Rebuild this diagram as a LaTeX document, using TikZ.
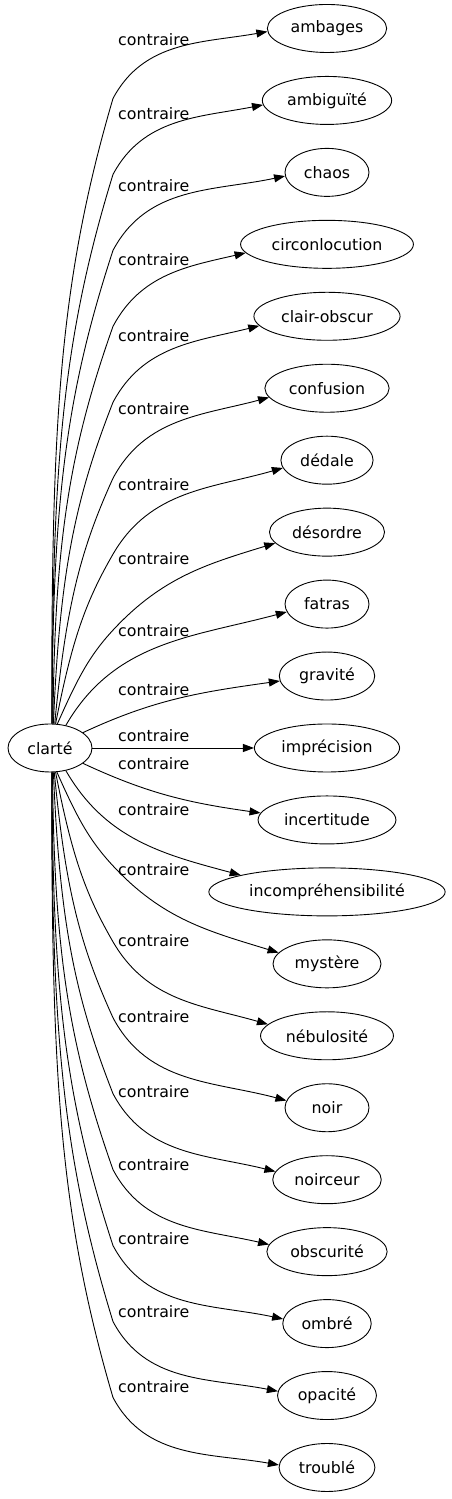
\documentclass[tikz,border=0pt]{standalone}
\usepackage{fontspec}
\setmainfont{DejaVu Sans}
\usetikzlibrary{shapes.geometric,arrows.meta}
\begin{document}
\begin{tikzpicture}[x=1pt,y=1pt,
  every node/.style={font=\fontsize{15.8}{18}\selectfont},
  tgt/.style={ellipse, draw, line width=0.9pt, inner xsep=5.8pt, inner ysep=2pt, minimum height=48pt, minimum width=84pt},
  lbl/.style={anchor=base west, inner sep=0pt},
  conn/.style={draw, line width=0.9pt, -{Triangle[length=11pt,width=8pt]}}]
\useasboundingbox (0,0) rectangle (451,1499);
\node[tgt] (clarte) at (50,751) {clarté};
\foreach \i/\nm/\L in {0/ambages/42, 1/ambiguïté/116, 2/chaos/188, 3/circonlocution/262,
  4/clair-obscur/338, 5/confusion/411, 6/dédale/487, 7/désordre/561, 8/fatras/633,
  9/gravité/692, 10/imprécision/738, 11/incertitude/766, 12/incompréhensibilité/812,
  13/mystère/872, 14/nébulosité/943, 15/noir/1019, 16/noirceur/1094, 17/obscurité/1167,
  18/ombré/1241, 19/opacité/1314, 20/troublé/1389} {
  \pgfmathsetmacro\Yt{751+71.95*(10-\i)}
  \node[tgt] (t\i) at (327,\Yt) {\nm};
  \node[lbl] (l\i) at (118,1495-\L) {contraire};
}
\foreach \i in {0,...,20} {
  \pgfmathtruncatemacro\j{min(\i,20-\i)}
  \pgfmathtruncatemacro\s{\i<10 ? 1 : -1}
  \pgfmathsetmacro\Yt{751+71.95*(10-\i)}
  \ifnum\j<8
    \pgfmathsetmacro\KY{\Yt-\s*(70+4*\j)}
    \pgfmathsetmacro\PY{\s>0 ? 774 : 728}
    \pgfmathsetmacro\th{atan2(abs(\KY-\PY),59)}
    \pgfmathsetmacro\oa{\s*min(\th+8,90)}
    \pgfmathsetmacro\ia{180+\s*(\th-11)}
    \pgfmathtruncatemacro\A{\s>0 ? 86-0.25*\j*\j : 274+0.25*\j*\j}
    \pgfmathsetmacro\ob{\s*min(62,\th-11)}
    \pgfmathsetmacro\ib{180+\s*(10+\j)}
    \pgfmathtruncatemacro\B{180+\s*(3+1.3*\j)}
    \coordinate (k\i) at (113,\KY);
    \draw[conn] (clarte.\A) to[out=\oa,in=\ia,out looseness=1.2,in looseness=0.8] (k\i) to[out=\ob,in=\ib] (t\i.\B);
  \else\ifnum\j=8
    \pgfmathtruncatemacro\A{\s>0 ? 55 : 305}
    \pgfmathsetmacro\oa{\s*60}
    \pgfmathsetmacro\ia{180+\s*15}
    \pgfmathtruncatemacro\B{180+\s*11}
    \draw[conn] (clarte.\A) to[out=\oa,in=\ia] (t\i.\B);
  \else\ifnum\j=9
    \pgfmathtruncatemacro\A{\s>0 ? 25 : 335}
    \pgfmathsetmacro\oa{\s*25}
    \pgfmathsetmacro\ia{180+\s*8}
    \pgfmathtruncatemacro\B{180+\s*6}
    \draw[conn] (clarte.\A) to[out=\oa,in=\ia] (t\i.\B);
  \else
    \draw[conn] (clarte) -- (t\i);
  \fi\fi\fi
}
\end{tikzpicture}
\end{document}
